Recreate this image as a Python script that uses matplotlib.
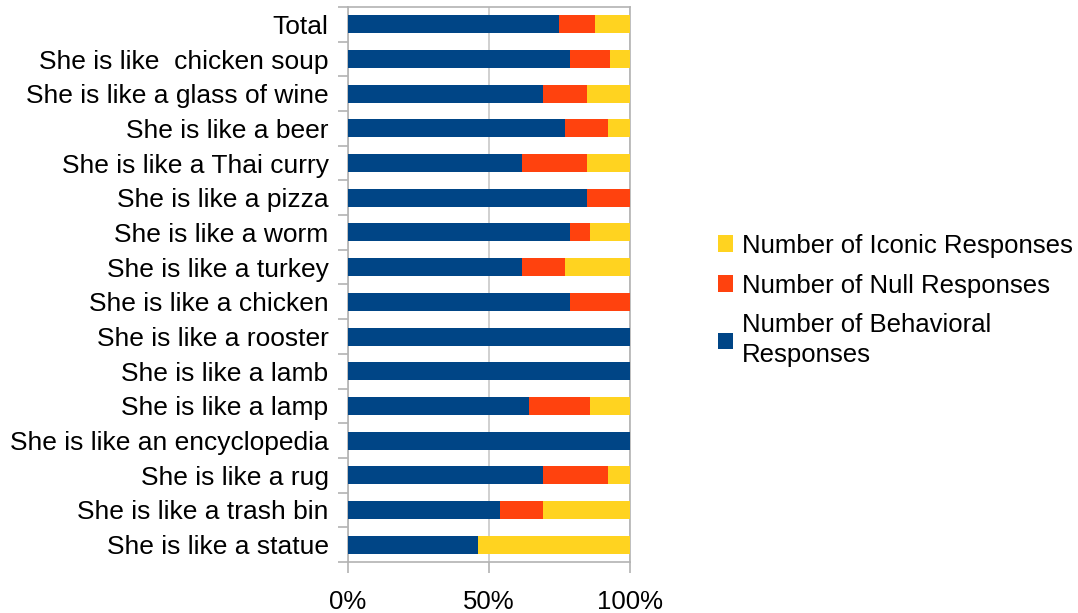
import matplotlib
matplotlib.use("Agg")
import matplotlib.pyplot as plt
import numpy as np
from matplotlib.ticker import FixedLocator, PercentFormatter

plt.rcParams['font.family'] = ['Liberation Sans', 'DejaVu Sans']

categories = [
    "Total",
    "She is like  chicken soup",
    "She is like a glass of wine",
    "She is like a beer",
    "She is like a Thai curry",
    "She is like a pizza",
    "She is like a worm",
    "She is like a turkey",
    "She is like a chicken",
    "She is like a rooster",
    "She is like a lamb",
    "She is like a lamp",
    "She is like an encyclopedia",
    "She is like a rug",
    "She is like a trash bin",
    "She is like a statue",
]

# Response counts per metaphor
behavioral = [149, 11, 9, 10, 8, 11, 11, 8, 11, 13, 13, 9, 13, 9, 7, 6]
null = [25, 2, 2, 2, 3, 2, 1, 2, 3, 0, 0, 3, 0, 3, 2, 0]
iconic = [25, 1, 2, 1, 2, 0, 2, 3, 0, 0, 0, 2, 0, 1, 4, 7]

series_names = ["Number of Behavioral\nResponses",
                "Number of Null Responses",
                "Number of Iconic Responses"]
colors = ["#004586", "#ff420e", "#ffd320"]

b = np.array(behavioral, float)
n = np.array(null, float)
c = np.array(iconic, float)
tot = b + n + c
shares = [b / tot * 100, n / tot * 100, c / tot * 100]

fig = plt.figure(figsize=(10.78, 6.13), dpi=100)
ax = fig.add_axes([0.3228, 0.0832, 0.2616, 0.9054])

y = np.arange(len(categories))
left = np.zeros(len(categories))
handles = []
for vals, name, col in zip(shares, series_names, colors):
    h = ax.barh(y, vals, left=left, height=0.52, color=col, label=name, zorder=3)
    handles.append(h)
    left += vals

ax.set_xlim(0, 100)
ax.set_ylim(len(categories) - 0.5, -0.5)
ax.set_yticks(y)
ax.set_yticklabels(categories, fontsize=19)
ax.yaxis.set_minor_locator(FixedLocator(np.arange(-0.5, len(categories), 1.0)))
ax.tick_params(axis='y', which='major', length=0, pad=14)
ax.tick_params(axis='y', which='minor', length=7, width=1.2, color="#b3b3b3")

ax.set_xticks([0, 50, 100])
ax.xaxis.set_major_formatter(PercentFormatter(decimals=0))
ax.tick_params(axis='x', which='major', labelsize=18.5, length=8, width=1.2,
               color="#b3b3b3", pad=12)

ax.grid(axis='x', color="#d0d0d0", linewidth=1.4, zorder=0)
for s in ax.spines.values():
    s.set_color("#b3b3b3")
    s.set_linewidth(1.2)

leg = fig.legend(handles[::-1], [h.get_label() for h in handles[::-1]],
                 loc='center left', bbox_to_anchor=(0.666, 0.51),
                 frameon=False, fontsize=18.5, handlelength=0.6, handleheight=0.6,
                 handletextpad=0.35, labelspacing=0.62,
                 borderpad=0, borderaxespad=0)
for t in leg.get_texts():
    t.set_linespacing(1.3)

fig.savefig("out.png", dpi=100)
